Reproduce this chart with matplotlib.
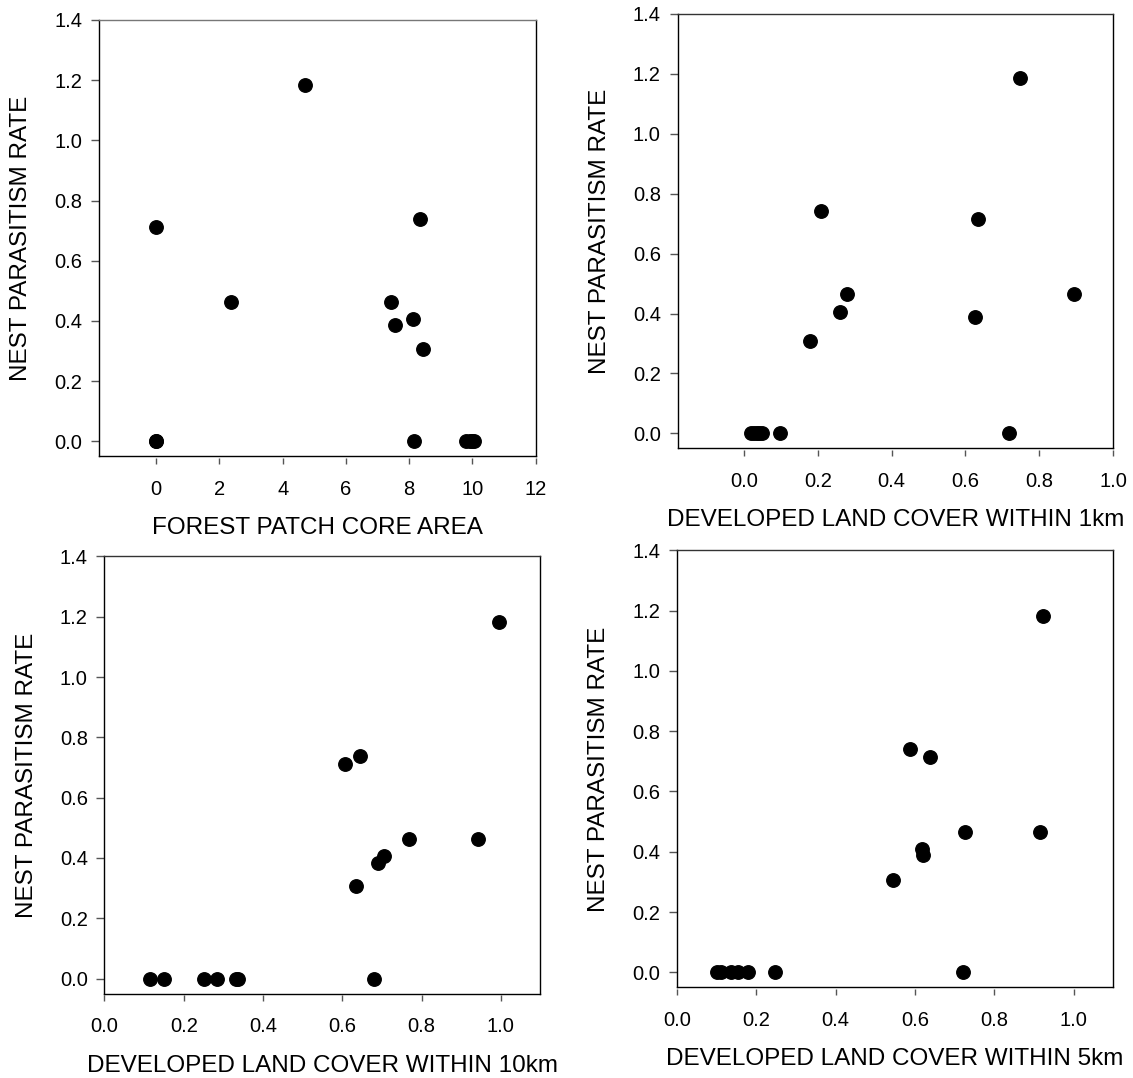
import numpy as np
import matplotlib.pyplot as plt
from matplotlib.lines import Line2D

plt.rcParams['font.family'] = ['Liberation Sans', 'DejaVu Sans']

# nest parasitism rate vs forest patch core area
core_area = [0.0, 0.0, 8.15, 9.79, 9.92, 10.0, 10.05,
             0.0, 2.37, 4.72, 7.41, 7.55, 8.11, 8.34, 8.43]
rate_core = [0.0, 0.0, 0.0, 0.0, 0.0, 0.0, 0.0,
             0.713, 0.462, 1.183, 0.462, 0.388, 0.405, 0.739, 0.305]

# developed land cover within 1km
dev_1km = [0.019, 0.027, 0.035, 0.042, 0.048, 0.097, 0.718,
           0.178, 0.210, 0.259, 0.279, 0.625, 0.633, 0.749, 0.895]
rate_1km = [0.0, 0.0, 0.0, 0.0, 0.0, 0.0, 0.0,
            0.307, 0.741, 0.406, 0.465, 0.388, 0.715, 1.185, 0.465]

# developed land cover within 10km
dev_10km = [0.115, 0.149, 0.250, 0.283, 0.332, 0.337, 0.680,
            0.608, 0.645, 0.634, 0.691, 0.706, 0.768, 0.942, 0.996]
rate_10km = [0.0, 0.0, 0.0, 0.0, 0.0, 0.0, 0.0,
             0.713, 0.739, 0.306, 0.384, 0.407, 0.462, 0.462, 1.182]

# developed land cover within 5km
dev_5km = [0.102, 0.111, 0.137, 0.154, 0.180, 0.247, 0.721,
           0.544, 0.587, 0.637, 0.617, 0.621, 0.727, 0.916, 0.922]
rate_5km = [0.0, 0.0, 0.0, 0.0, 0.0, 0.0, 0.0,
            0.307, 0.740, 0.715, 0.410, 0.388, 0.464, 0.464, 1.183]

y_ticks = [0.0, 0.2, 0.4, 0.6, 0.8, 1.0, 1.2, 1.4]
y_label = 'NEST PARASITISM RATE'


def scatter_panel(fig, rect, x, y, xlabel, xlim, xticks, xfmt, top_color='k'):
    """
    一个散点子图, SigmaPlot 风格
    """
    ax = fig.add_axes(rect)
    ax.plot(x, y, 'o', color='black', markersize=9.7, linestyle='none')

    ax.set_xlim(*xlim)
    ax.set_ylim(-0.05, 1.4)
    ax.set_xticks(xticks)
    ax.set_xticklabels([xfmt.format(t) for t in xticks])
    ax.set_yticks(y_ticks)
    ax.set_yticklabels(['{:.1f}'.format(t) for t in y_ticks])

    for side in ['left', 'right', 'top']:
        ax.spines[side].set_linewidth(1.0)
    ax.spines['top'].set_color(top_color)
    # x轴刻度与边框分开一点
    ax.spines['bottom'].set_position(('outward', 1.2))
    ax.spines['bottom'].set_color('none')
    ax.add_line(Line2D([0, 1], [0, 0], transform=ax.transAxes,
                       color='black', linewidth=1.0, clip_on=False))

    ax.tick_params(axis='y', direction='out', length=6, width=1.0,
                   color='#555555', labelsize=14.5, pad=6)
    ax.tick_params(axis='x', direction='out', length=4, width=1.0,
                   color='#555555', labelsize=14.5, pad=12)

    ax.set_xlabel(xlabel, fontsize=17.5, labelpad=13)
    ax.set_ylabel(y_label, fontsize=17.5, labelpad=16)
    return ax


if __name__ == "__main__":
    fig = plt.figure(figsize=(11.33, 10.78), dpi=100)

    scatter_panel(fig, [0.0876, 0.5767, 0.3852, 0.4048], core_area, rate_core,
                  'FOREST PATCH CORE AREA', (-1.8, 12), [0, 2, 4, 6, 8, 10, 12],
                  '{:d}', top_color='#777777')
    scatter_panel(fig, [0.5980, 0.5840, 0.3843, 0.4033], dev_1km, rate_1km,
                  'DEVELOPED LAND COVER WITHIN 1km', (-0.18, 1.0),
                  [0.0, 0.2, 0.4, 0.6, 0.8, 1.0], '{:.1f}', top_color='#333333')
    scatter_panel(fig, [0.0922, 0.0783, 0.3848, 0.4055], dev_10km, rate_10km,
                  'DEVELOPED LAND COVER WITHIN 10km', (0.0, 1.1),
                  [0.0, 0.2, 0.4, 0.6, 0.8, 1.0], '{:.1f}', top_color='#333333')
    scatter_panel(fig, [0.5975, 0.0840, 0.3851, 0.4055], dev_5km, rate_5km,
                  'DEVELOPED LAND COVER WITHIN 5km', (0.0, 1.1),
                  [0.0, 0.2, 0.4, 0.6, 0.8, 1.0], '{:.1f}', top_color='#333333')

    fig.savefig('out.png', dpi=100)
    plt.close(fig)
